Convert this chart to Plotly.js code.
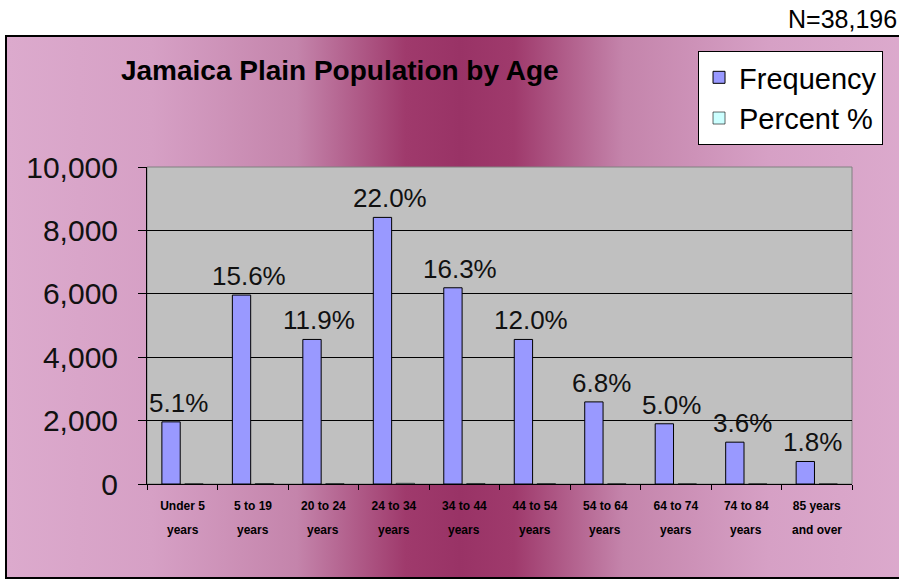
<!DOCTYPE html>
<html>
<head>
<meta charset="utf-8">
<script src="https://cdn.plot.ly/plotly-3.0.1.min.js"></script>
<style>
  html, body { margin: 0; padding: 0; background: #ffffff; }
  #wrap { position: relative; width: 899px; height: 579px; overflow: hidden; }
  #bg {
    position: absolute; left: 5px; top: 35px; width: 910px; height: 544px;
    box-sizing: border-box; border: 2px solid #000;
    background: linear-gradient(to right, #dcaacd 0%, #d6a0c5 16%, #c484ab 32%, #9f3a6c 44%, #993366 50%, #9f3a6c 56%, #c484ab 68%, #d6a0c5 84%, #dcaacd 100%);
  }
  #chart { position: absolute; left: 0; top: 0; width: 899px; height: 579px; }
</style>
</head>
<body>
<div id="wrap">
  <div id="bg"></div>
  <div id="chart"></div>
</div>
<script>
// ---- data ----
const categories = ["Under 5 years", "5 to 19 years", "20 to 24 years", "24 to 34 years", "34 to 44 years",
                    "44 to 54 years", "54 to 64 years", "64 to 74 years", "74 to 84 years", "85 years and over"];
const tickLine1 = ["Under 5", "5 to 19", "20 to 24", "24 to 34", "34 to 44",
                   "44 to 54", "54 to 64", "64 to 74", "74 to 84", "85 years"];
const tickLine2 = ["years", "years", "years", "years", "years",
                   "years", "years", "years", "years", "and over"];
const frequency = [1960, 5960, 4560, 8410, 6190, 4560, 2590, 1900, 1320, 710];
const percent = [5.1, 15.6, 11.9, 22.0, 16.3, 12.0, 6.8, 5.0, 3.6, 1.8];
const percentLabels = ["5.1%", "15.6%", "11.9%", "22.0%", "16.3%", "12.0%", "6.8%", "5.0%", "3.6%", "1.8%"];
const yTickVals = [0, 2000, 4000, 6000, 8000, 10000];
const totalN = "N=38,196";
const chartTitle = "Jamaica Plain Population by Age";

const FONT = "Liberation Sans, Arial, Helvetica, sans-serif";

const traces = [
  {
    type: "bar", name: "Frequency", x: categories, y: frequency,
    marker: { color: "#9999FF", line: { color: "#000000", width: 1 } },
    hoverinfo: "x+y"
  },
  {
    type: "bar", name: "Percent %", x: categories, y: percent,
    marker: { color: "#CCFFFF", line: { color: "#000000", width: 0.6 } },
    hoverinfo: "x+y"
  }
];

const annotations = categories.map((c, i) => ({
  x: c, y: frequency[i], xref: "x", yref: "y",
  text: percentLabels[i], showarrow: false,
  xanchor: "center", yanchor: "bottom", xshift: -4, yshift: 2,
  font: { family: FONT, size: 26, color: "#111111" }
}));
categories.forEach((c, i) => annotations.push({
  x: c, y: 0, xref: "x", yref: "paper",
  text: tickLine2[i], showarrow: false,
  xanchor: "center", yanchor: "middle", yshift: -46,
  font: { family: FONT, size: 12, color: "#000", weight: "bold" }
}));
annotations.push({
  x: 1.066, y: 1.467, xref: "paper", yref: "paper",
  text: totalN, showarrow: false, xanchor: "right", yanchor: "middle",
  font: { family: FONT, size: 25, color: "#000000" }
});

const layout = {
  width: 899, height: 579,
  margin: { l: 147, r: 47, t: 167, b: 95, pad: 0 },
  paper_bgcolor: "rgba(0,0,0,0)",
  plot_bgcolor: "#C0C0C0",
  barmode: "group", bargap: 0.35, bargroupgap: 0.2,
  title: {
    text: "<b>" + chartTitle + "</b>",
    x: 0.378, xanchor: "center", y: 0.879, yanchor: "middle",
    font: { family: FONT, size: 28, color: "#000000" }
  },
  xaxis: {
    type: "category", tickvals: categories, ticktext: tickLine1,
    tickson: "boundaries", ticks: "outside", ticklen: 5, tickcolor: "#000", tickwidth: 1,
    ticklabelstandoff: 11,
    showline: true, linecolor: "#000", linewidth: 1, showgrid: false,
    tickangle: 0, automargin: false,
    tickfont: { family: FONT, size: 12, color: "#000", weight: "bold" }
  },
  yaxis: {
    range: [0, 10000], tickvals: yTickVals, tickformat: ",d",
    ticks: "outside", ticklen: 8, tickcolor: "#000", tickwidth: 1,
    ticklabelstandoff: 14,
    showline: true, linecolor: "#000", linewidth: 1,
    showgrid: true, gridcolor: "#000", gridwidth: 1, zeroline: false,
    automargin: false,
    tickfont: { family: FONT, size: 30, color: "#111111" }
  },
  shapes: [{
    type: "rect", xref: "paper", yref: "paper", x0: 0, x1: 1, y0: 0, y1: 1,
    line: { color: "#808080", width: 1 }, fillcolor: "rgba(0,0,0,0)", layer: "below"
  }],
  legend: {
    x: 0.7816, y: 1.366, xanchor: "left", yanchor: "top",
    bgcolor: "#FFFFFF", bordercolor: "#000", borderwidth: 1,
    font: { family: FONT, size: 29, color: "#000" },
    traceorder: "normal", tracegroupgap: 0
  },
  annotations: annotations,
  showlegend: true
};

Plotly.newPlot("chart", traces, layout, { displayModeBar: false, staticPlot: true });
</script>
</body>
</html>
